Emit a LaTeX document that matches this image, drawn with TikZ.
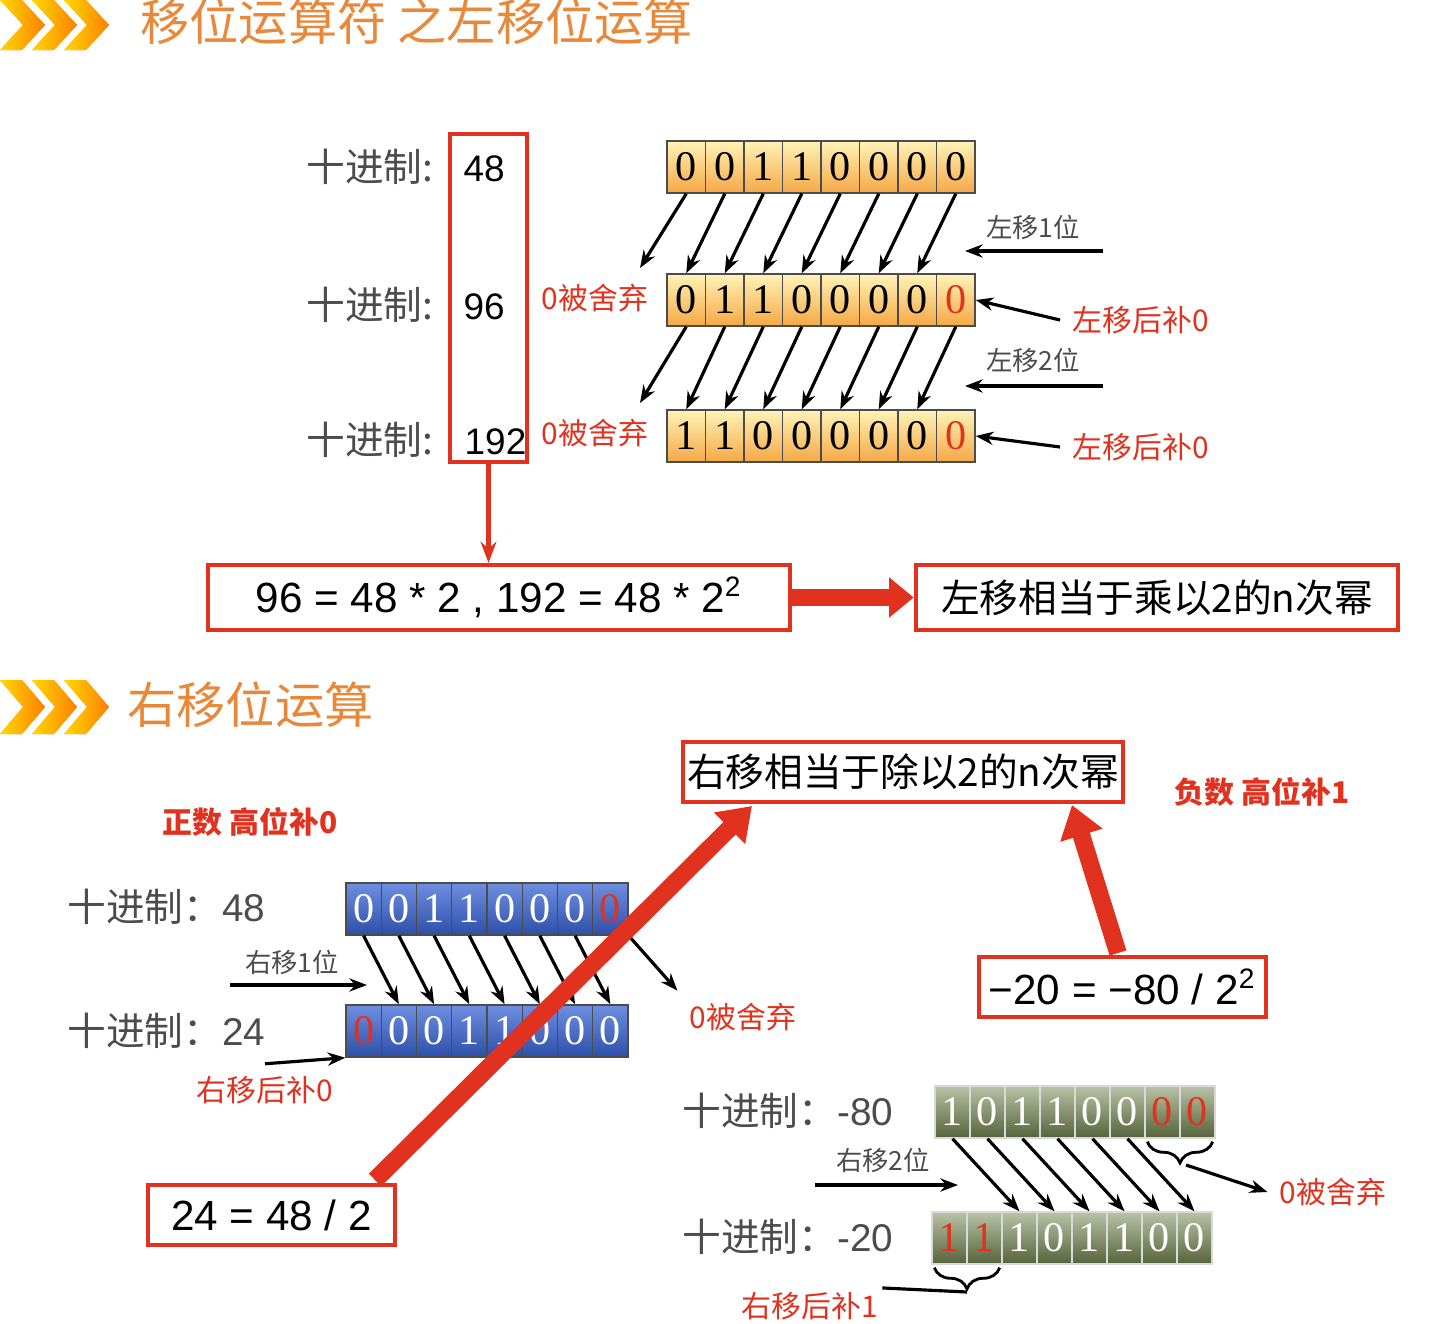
\documentclass[tikz,border=0pt]{standalone}
\usepackage{fontspec}
\setmainfont{Liberation Serif}
\newfontfamily\cjk{Noto Sans CJK SC}
\newfontfamily\ssf{Liberation Sans}
\usetikzlibrary{arrows.meta,decorations.pathreplacing,calc}
\definecolor{ttl}{HTML}{E8883A}
\definecolor{rd}{HTML}{E0321E}
\definecolor{otop}{HTML}{FFF3B8}
\definecolor{obot}{HTML}{F5A845}
\definecolor{btop}{HTML}{6E8FE0}
\definecolor{bbot}{HTML}{2E4FA8}
\definecolor{gtop}{HTML}{B9C2A6}
\definecolor{gbot}{HTML}{55633A}
\tikzset{
 cellbase/.style={draw=black!70,minimum height=0.52cm,inner sep=0,font=\fontsize{12}{14}\selectfont},
 ocell/.style={cellbase,minimum width=0.385cm,top color=otop,bottom color=obot},
 bcell/.style={cellbase,minimum width=0.352cm,top color=btop,bottom color=bbot,text=white},
 gcell/.style={cellbase,minimum width=0.35cm,top color=gtop,bottom color=gbot,text=white,draw=white!70!gray},
 lab/.style={font=\cjk\fontsize{11}{13}\selectfont,text=black!70},
 small/.style={font=\cjk\fontsize{7.5}{9}\selectfont,text=black!70},
 rlab/.style={font=\cjk\fontsize{8.5}{10}\selectfont,text=rd},
 rbox/.style={draw=rd,line width=1.2pt,inner sep=0},
 arr/.style={-{Stealth[length=5pt]},line width=0.9pt},
 fat/.style={-{Triangle[length=9pt,width=12pt]},rd,line width=5pt},
 chev/.style={fill=orange!80!yellow,draw=none},
}
\begin{document}
\begin{tikzpicture}[x=0.01cm,y=-0.01cm]
\useasboundingbox (0,0) rectangle (1430,1324);
\fill[white] (0,0) rectangle (1430,1324);
% titles
\foreach \o in {0,32,64}{
 \fill[chev,left color=yellow!70!orange,right color=orange] (\o,0)--(\o+22,0)--(\o+45,25)--(\o+22,50)--(\o,50)--(\o+23,25)--cycle;
 \fill[chev,left color=yellow!70!orange,right color=orange] (\o,680)--(\o+22,680)--(\o+45,707)--(\o+22,734)--(\o,734)--(\o+23,707)--cycle;
}
\node[anchor=west,text=ttl,font=\cjk\fontsize{14}{16}\selectfont] (t1) at (128,22) {移位运算符 之左移位运算};
\node[anchor=west,text=ttl,font=\cjk\fontsize{14}{16}\selectfont] (t2) at (115,705) {右移位运算};
% left shift
\node[lab] (d1) at (370,167) {十进制:};
\node[lab] (d2) at (370,305) {十进制:};
\node[lab] (d3) at (370,440) {十进制:};
\node[font=\ssf\fontsize{10.5}{13}\selectfont,anchor=west,inner sep=0] (v1) at (463,169) {48};
\node[font=\ssf\fontsize{10.5}{13}\selectfont,anchor=west,inner sep=0] (v2) at (463,307) {96};
\node[font=\ssf\fontsize{10.5}{13}\selectfont,anchor=west,inner sep=0] (v3) at (464,442) {192};
\node[rbox,minimum width=0.77cm,minimum height=3.28cm] (rb) at (488.5,298) {};
\foreach \i/\d in {0/0,1/0,2/1,3/1,4/0,5/0,6/0,7/0}
 \node[ocell] (a\i) at (686.25+38.5*\i,167) {\d};
\foreach \i/\d in {0/0,1/1,2/1,3/0,4/0,5/0,6/0,7/{\color{rd}0}}
 \node[ocell] (b\i) at (686.25+38.5*\i,300) {\d};
\foreach \i/\d in {0/1,1/1,2/0,3/0,4/0,5/0,6/0,7/{\color{rd}0}}
 \node[ocell] (c\i) at (686.25+38.5*\i,436) {\d};
\coordinate (bm) at (640,268); \coordinate (cm) at (640,403);
\draw[arr] (a0.south)--(bm);
\foreach \i [evaluate=\i as \j using int(\i-1)] in {1,...,7} \draw[arr] (a\i.south)--(b\j.north);
\draw[arr] (b0.south)--(cm);
\foreach \i [evaluate=\i as \j using int(\i-1)] in {1,...,7} \draw[arr] (b\i.south)--(c\j.north);
\node[small] (l1) at (1033,227) {左移1位};
\coordinate (l1a) at (1103,251); \coordinate (l1b) at (965,251);
\draw[arr] (l1a)--(l1b);
\node[small] (l2) at (1033,360) {左移2位};
\coordinate (l2a) at (1103,386); \coordinate (l2b) at (965,386);
\draw[arr] (l2a)--(l2b);
\node[rlab,anchor=west] (p1) at (1060,320) {左移后补0};
\node[rlab,anchor=west] (p2) at (1060,447) {左移后补0};
\draw[arr] (p1.west)--(b7.east);
\draw[arr] (p2.west)--(c7.east);
\node[rlab] (q1) at (595,298) {0被舍弃};
\node[rlab] (q2) at (595,433) {0被舍弃};
\node[rbox,minimum width=5.82cm,minimum height=0.65cm,font=\ssf\fontsize{12}{14}\selectfont] (e1) at (499,597.5) {96 = 48 * 2 , 192 = 48 * 2\textsuperscript{2}};
\draw[rd,line width=1.2pt,-{Stealth[length=6pt]}] (rb.south)--(rb.south|-e1.north);
\node[rbox,minimum width=4.82cm,minimum height=0.65cm,font=\cjk\fontsize{11}{13}\selectfont] (e2) at (1157,597.5) {左移相当于乘以2的n次幂};
\draw[fat,-{Triangle[length=7pt,width=11pt]}] (e1.east)--(e2.west);
% right shift
\node[rlab,font=\cjk\bfseries\fontsize{8.5}{10}\selectfont] (pz) at (250,822) {正数 高位补0};
\node[rlab,font=\cjk\bfseries\fontsize{8.5}{10}\selectfont] (nz) at (1262,792) {负数 高位补1};
\node[rbox,minimum width=4.4cm,minimum height=0.6cm,font=\cjk\fontsize{11}{13}\selectfont] (e3) at (903,772) {右移相当于除以2的n次幂};
\node[lab,anchor=west] (d4) at (55,907) {十进制：\ssf 48};
\node[lab,anchor=west] (d5) at (55,1031) {十进制：\ssf 24};
\foreach \i/\d in {0/0,1/0,2/1,3/1,4/0,5/0,6/0,7/{\color{rd}0}}
 \node[bcell] (f\i) at (363.6+35.25*\i,909) {\d};
\foreach \i/\d in {0/{\color{rd}0},1/0,2/0,3/1,4/1,5/0,6/0,7/0}
 \node[bcell] (g\i) at (363.6+35.25*\i,1031) {\d};
\foreach \i [evaluate=\i as \j using int(\i+1)] in {0,...,6} \draw[arr] (f\i.south)--(g\j.north);
\node[small] (r1) at (292,962) {右移1位};
\coordinate (r1a) at (230,985); \coordinate (r1b) at (367,985);
\draw[arr] (r1a)--(r1b);
\node[rlab] (q3) at (743,1017) {0被舍弃};
\draw[arr] (f7.south east)--(q3.north west);
\node[rlab] (p3) at (265,1090) {右移后补0};
\draw[arr] (p3.north)--(g0.south west);
\node[rbox,minimum width=2.47cm,minimum height=0.6cm,font=\ssf\fontsize{12}{14}\selectfont] (e4) at (271.5,1215) {24 = 48 / 2};
\coordinate (e4t) at (375,1180); \coordinate (e3b) at (752,806);
\draw[fat] (e4t)--(e3b);
\node[rbox,minimum width=2.87cm,minimum height=0.6cm,font=\ssf\fontsize{12}{14}\selectfont] (e5) at (1122.5,987) {−20 = −80 / 2\textsuperscript{2}};
\coordinate (e5t) at (1118,953); \coordinate (e3c) at (1072,805);
\draw[fat] (e5t)--(e3c);
\node[lab,anchor=west] (d6) at (670,1111) {十进制：\ssf -80};
\node[lab,anchor=west] (d7) at (670,1237) {十进制：\ssf -20};
\foreach \i/\d in {0/1,1/0,2/1,3/1,4/0,5/0,6/{\color{rd}0},7/{\color{rd}0}}
 \node[gcell] (h\i) at (952.5+35*\i,1112) {\d};
\foreach \i/\d in {0/{\color{rd}1},1/{\color{rd}1},2/1,3/0,4/1,5/1,6/0,7/0}
 \node[gcell] (k\i) at (949.5+35*\i,1238) {\d};
\foreach \i [evaluate=\i as \j using int(\i+2)] in {0,...,5} \draw[arr] (h\i.south)--(k\j.north);
\node[small] (r2) at (883,1160) {右移2位};
\coordinate (r2a) at (815,1185); \coordinate (r2b) at (958,1185);
\draw[arr] (r2a)--(r2b);
\draw[line width=0.8pt,decorate,decoration={brace,mirror,amplitude=6pt}] ($(h6.south west)+(3,3)$) -- ($(h7.south east)+(-3,3)$);
\coordinate (hbt) at (1186,1165);
\node[rlab] (q4) at (1333,1192) {0被舍弃};
\draw[arr] (hbt)--(q4.west);
\draw[line width=0.8pt,decorate,decoration={brace,mirror,amplitude=6pt}] ($(k0.south west)+(3,3)$) -- ($(k1.south east)+(-3,3)$);
\coordinate (kbt) at (967,1292);
\node[rlab,anchor=south,inner sep=1pt] (p4) at (810,1324) {右移后补1};
\draw[line width=0.9pt] (kbt)--(p4.north east);
\end{tikzpicture}
\end{document}
